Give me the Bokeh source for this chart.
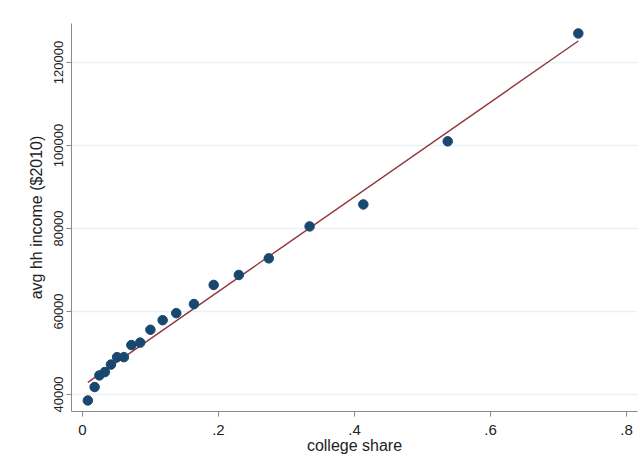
from bokeh.plotting import figure
from bokeh.models import Range1d, FixedTicker
from bokeh.embed import file_html
from bokeh.resources import INLINE

# binned scatter data
college_share = [0.008, 0.018, 0.025, 0.033, 0.042, 0.051, 0.061, 0.072, 0.085, 0.100,
                 0.118, 0.138, 0.164, 0.193, 0.230, 0.274, 0.334, 0.413, 0.537, 0.729]
avg_income = [38550, 41800, 44600, 45400, 47200, 49000, 49000, 51900, 52500, 55600,
              57900, 59600, 61800, 66400, 68800, 72800, 80500, 85800, 101000, 127000]

# fitted line (intercept, slope)
fit_intercept = 42000
fit_slope = 114100

x_ticks = [0, 0.2, 0.4, 0.6, 0.8]
x_tick_labels = ["0", ".2", ".4", ".6", ".8"]
y_ticks = [40000, 60000, 80000, 100000, 120000]
y_tick_labels = ["40000", "60000", "80000", "100000", "120000"]

p = figure(width=640, height=472, output_backend="svg", toolbar_location=None,
           x_range=Range1d(-0.016, 0.816), y_range=Range1d(35900, 129400),
           min_border_left=71, min_border_top=23, min_border_bottom=61, min_border_right=3)
p.outline_line_color = None
p.background_fill_color = "white"
p.border_fill_color = "white"

FONT = "Liberation Sans"
AX = "#8a8a8a"

p.xaxis.ticker = FixedTicker(ticks=x_ticks)
p.xaxis.major_label_overrides = dict(zip(x_ticks, x_tick_labels))
p.yaxis.ticker = FixedTicker(ticks=y_ticks)
p.yaxis.major_label_overrides = dict(zip(y_ticks, y_tick_labels))
p.yaxis.major_label_orientation = "vertical"

for ax in (p.xaxis, p.yaxis):
    ax.axis_line_color = AX
    ax.major_tick_line_color = AX
    ax.minor_tick_line_color = None
    ax.major_tick_out = 5
    ax.major_tick_in = 0
    ax.major_label_text_font = FONT
    ax.major_label_text_color = "#222222"
    ax.axis_label_text_font = FONT
    ax.axis_label_text_font_style = "normal"
    ax.axis_label_text_color = "#222222"
    ax.axis_label_text_font_size = "16px"

p.xaxis.major_label_text_font_size = "15px"
p.yaxis.major_label_text_font_size = "13px"
p.xaxis.major_label_standoff = 8
p.yaxis.major_label_standoff = 3
p.xaxis.axis_label_standoff = -1
p.yaxis.axis_label_standoff = 7
p.xaxis.axis_label = "college share"
p.yaxis.axis_label = "avg hh income ($2010)"

p.xgrid.grid_line_color = None
p.ygrid.ticker = FixedTicker(ticks=y_ticks)
p.ygrid.grid_line_color = "#eaf0f3"
p.ygrid.grid_line_width = 1.5

x0, x1 = min(college_share), max(college_share)
p.line([x0, x1], [fit_intercept + fit_slope * x0, fit_intercept + fit_slope * x1],
       line_color="#90353b", line_width=1.4)
p.scatter(college_share, avg_income, size=9.5, fill_color="#1a476f", line_color="#1a476f")

open("out.html", "w").write(file_html(p, INLINE))
